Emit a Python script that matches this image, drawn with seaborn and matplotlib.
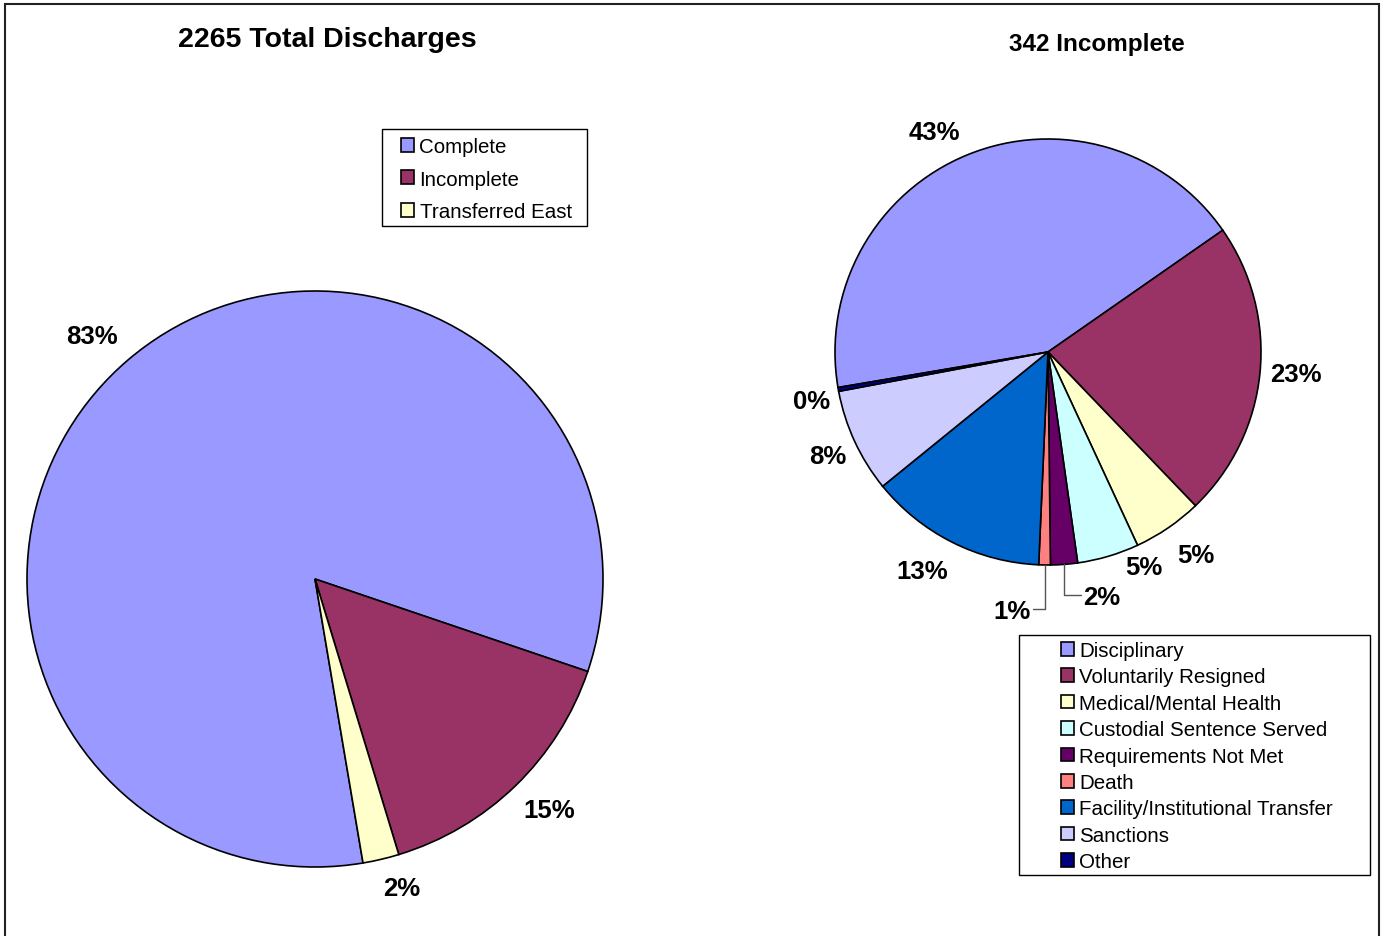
import numpy as np
import matplotlib.pyplot as plt
import seaborn as sns
from matplotlib.patches import Patch, Rectangle

sns.set_theme(style="white")
plt.rcParams['font.family'] = ['Liberation Sans', 'DejaVu Sans']
plt.rcParams['text.color'] = 'black'

# --- data ---
discharge_title = "2265 Total Discharges"
discharge_labels = ["Complete", "Incomplete", "Transferred East"]
discharge_counts = [1877, 342, 46]
discharge_colors = ["#9999FF", "#993366", "#FFFFCC"]

reason_title = "342 Incomplete"
reason_labels = ["Disciplinary", "Voluntarily Resigned", "Medical/Mental Health",
                 "Custodial Sentence Served", "Requirements Not Met", "Death",
                 "Facility/Institutional Transfer", "Sanctions", "Other"]
reason_counts = [147, 77, 18, 16, 7, 3, 46, 27, 1]
reason_colors = ["#9999FF", "#993366", "#FFFFCC", "#CCFFFF", "#660066",
                 "#FF8080", "#0066CC", "#CCCCFF", "#000080"]

# --- layout (pixel space, y up) ---
W, H = 1382, 937
left_center, left_radius, left_start = (315, H - 580), 288, 279.6
right_center, right_radius, right_start = (1048, H - 353), 213, 189.6
# per-label (angle shift in degrees, distance as fraction of radius)
left_label_pos = [(2, 1.15), (1.5, 1.14), (2.5, 1.11)]
right_label_pos = [(4.8, 1.17), (0.9, 1.17), (1.9, 1.17), (7.6, 1.10), (8.2, 1.17),
                   (-7.1, 1.22), (-3.3, 1.18), (0, 1.14), (1.2, 1.13)]
leader_idx = {4: 1, 5: -1}  # requirements (label right), death (label left)
label_dy = -1.5  # small vertical nudge for percentage text

fig = plt.figure(figsize=(W / 100, H / 100), dpi=100)
ax = fig.add_axes([0, 0, 1, 1])


def draw_pie(counts, colors, center, radius, start, label_pos, leaders=None):
    wedges, _ = ax.pie(counts, colors=colors, startangle=start, counterclock=False,
                       center=center, radius=radius,
                       wedgeprops=dict(edgecolor="black", linewidth=1.2))
    total = sum(counts)
    for i, (w, v) in enumerate(zip(wedges, counts)):
        mid = (w.theta1 + w.theta2) / 2
        shift, dist = label_pos[i]
        a = np.deg2rad(mid + shift)
        lx = center[0] + dist * radius * np.cos(a)
        ly = center[1] + dist * radius * np.sin(a)
        ax.text(lx, ly + label_dy, f"{round(100 * v / total):.0f}%", ha="center",
                va="center", fontsize=18.5, fontweight="bold", color="black")
        if leaders and i in leaders:
            side = leaders[i]
            ex = center[0] + radius * np.cos(np.deg2rad(mid))
            ey = center[1] + radius * np.sin(np.deg2rad(mid))
            ax.plot([ex, ex, lx - side * 21], [ey, ly, ly], color="#555555", lw=1)
    return wedges


draw_pie(discharge_counts, discharge_colors, left_center, left_radius, left_start,
         left_label_pos)
draw_pie(reason_counts, reason_colors, right_center, right_radius, right_start,
         right_label_pos, leader_idx)

ax.text(327, H - 40, discharge_title, ha="center", va="center",
        fontsize=20.5, fontweight="bold", color="black")
ax.text(1097, H - 45, reason_title, ha="center", va="center",
        fontsize=17.5, fontweight="bold", color="black")

# legends
h1 = [Patch(facecolor=c, edgecolor="black", lw=1.2) for c in discharge_colors]
leg1 = ax.legend(h1, discharge_labels, loc="upper left", bbox_to_anchor=(401, H - 138),
                 bbox_transform=ax.transData, frameon=False, fontsize=14.8,
                 handlelength=0.65, handleheight=0.65, handletextpad=0.25,
                 labelspacing=0.66, borderpad=0, borderaxespad=0, labelcolor="black")
ax.add_artist(leg1)
ax.add_patch(Rectangle((382, H - 227), 205, 97, fill=False, edgecolor="black", lw=1))

h2 = [Patch(facecolor=c, edgecolor="black", lw=1.2) for c in reason_colors]
ax.legend(h2, reason_labels, loc="upper left", bbox_to_anchor=(1061, H - 642),
          bbox_transform=ax.transData, frameon=False, fontsize=14.8,
          handlelength=0.65, handleheight=0.65, handletextpad=0.25,
          labelspacing=0.36, borderpad=0, borderaxespad=0, labelcolor="black")
ax.add_patch(Rectangle((1019, H - 876), 351, 240, fill=False, edgecolor="black", lw=1))

ax.set_xlim(0, W)
ax.set_ylim(0, H)
ax.set_aspect("equal")
ax.axis("off")

# outer chart frame (bottom edge falls outside the image)
fig.patches.append(Rectangle((5 / W, -0.05), (1379 - 5) / W, 1.05 - 5 / H,
                             transform=fig.transFigure, fill=False,
                             edgecolor="#222222", lw=1.5))

fig.savefig("out.png", dpi=100)
